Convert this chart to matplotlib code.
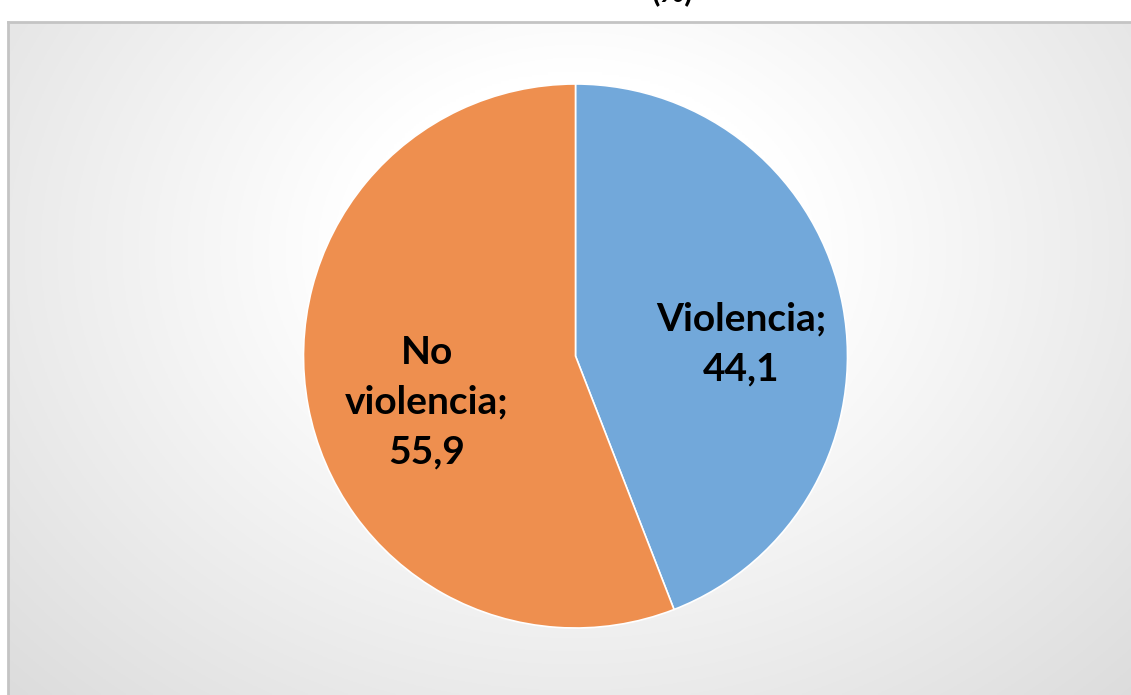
import matplotlib.pyplot as plt
import numpy as np

# data
labels = ["Violencia", "No violencia"]
values = [44.1, 55.9]
label_text = ["Violencia;\n44,1", "No\nviolencia;\n55,9"]
colors = ["#72a8da", "#ee8f4f"]

W, H = 1131, 695
fig = plt.figure(figsize=(W / 100, H / 100), dpi=100)
fig.patch.set_facecolor("white")
ax = fig.add_axes([0, 0, 1, 1])
ax.set_xlim(0, W)
ax.set_ylim(0, H)
ax.axis("off")

# chart area background: radial gradient, white in the upper middle
x0, y_top = 8, H - 22
xx, yy = np.meshgrid(np.linspace(x0, W, 400), np.linspace(0, y_top, 300))
cx, cy = 575, H - 250
d = np.sqrt(((xx - cx) / 1.25) ** 2 + (yy - cy) ** 2)
t = np.clip((d - 180) / 500, 0, 1)
shade = 1.0 - 0.15 * t
img = np.dstack([shade, shade, shade])
ax.imshow(img, extent=(x0, W, 0, y_top), origin="lower", zorder=0, aspect="auto")
ax.plot([x0, W], [y_top, y_top], color="#c4c4c4", lw=2, zorder=1)
ax.plot([x0, x0], [0, y_top], color="#c4c4c4", lw=2, zorder=1)

# pie
center = (575.5, H - 356)
ax.pie(values, colors=colors, startangle=90, counterclock=False,
       center=center, radius=272, frame=True,
       wedgeprops=dict(edgecolor="white", linewidth=1.2))
ax.set_xlim(0, W)
ax.set_ylim(0, H)
ax.set_aspect("equal")
ax.axis("off")

font = dict(family=["Lato", "DejaVu Sans"], fontsize=28, fontweight="bold",
            color="black", ha="center", va="center", linespacing=1.5)
ax.text(741, H - 344, label_text[0], **font)
ax.text(427, H - 402, label_text[1], **font)

# title, almost entirely above the top edge
fig.text(0.595, 1 - 1 / H, "(%)", fontsize=22, fontweight="bold",
         family=["Lato", "DejaVu Sans"], ha="center", va="baseline")

fig.savefig("out.png", dpi=100)
